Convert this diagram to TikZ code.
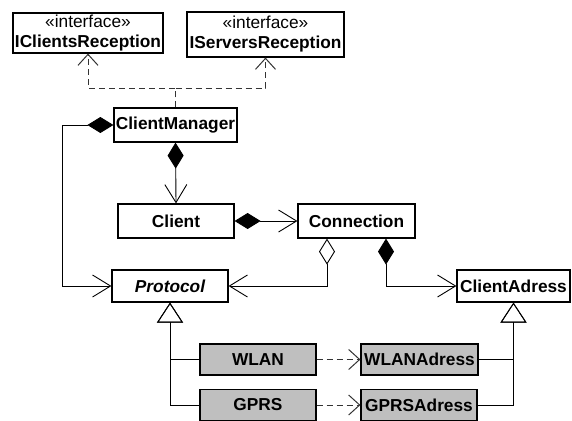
\documentclass[tikz,border=0pt]{standalone}
\usepackage{fontspec}
\setmainfont{Liberation Sans}
\usetikzlibrary{arrows.meta}

\begin{document}
\begin{tikzpicture}[x=1pt,y=-1pt,
    font=\fontsize{17.3}{20}\selectfont,
    cls/.style={draw,line width=1.2pt,minimum width=116pt,minimum height=32pt,
      inner xsep=1.5pt,inner ysep=1pt,font=\fontsize{17.3}{20}\selectfont\bfseries},
    impl/.style={cls,fill=gray!50},
    iface/.style={cls,align=center},
    link/.style={line width=0.9pt},
    comp/.style={link,{Diamond[length=26pt,width=16pt]}-{Straight Barb[length=18pt,width=22pt]}},
    aggr/.style={link,{Diamond[open,length=26pt,width=16pt]}-{Straight Barb[length=18pt,width=22pt]}},
    gen/.style={link,-{Triangle[open,length=20pt,width=26pt]}},
    dep/.style={link,line width=1pt,black!80,dash pattern=on 6pt off 4pt,-{Straight Barb[length=11pt,width=20pt]}}
  ]
\useasboundingbox (0,0) rectangle (572,420);

% interfaces
\node[iface,minimum width=150pt,minimum height=40pt] (icr) at (88,33) {\mdseries\guillemotleft interface\guillemotright\\IClientsReception};
\node[iface,minimum width=157pt,minimum height=45pt] (isr) at (265.5,34.5) {\mdseries\guillemotleft interface\guillemotright\\IServersReception};

% classes
\node[cls,minimum width=123pt,minimum height=34pt] (cm) at (175.5,125) {ClientManager};
\node[cls,minimum height=34pt] (client) at (176,221) {Client};
\node[cls,minimum width=117pt,minimum height=34pt] (conn) at (356.5,221) {Connection};
\node[cls] (proto) at (170,286) {\itshape Protocol};
\node[cls,minimum width=113pt] (ca) at (513.5,286) {ClientAdress};
\node[impl,minimum height=31pt] (wlan) at (258,359.5) {WLAN};
\node[impl,minimum width=117pt,minimum height=31pt] (wa) at (419.5,359.5) {WLANAdress};
\node[impl,minimum height=31pt] (gprs) at (258,405) {GPRS};
\node[impl,minimum height=31pt] (ga) at (419,405) {GPRSAdress};

% realisation of both interfaces
\coordinate (fork) at (175.5,88);
\draw[dep] (cm.north) -- (fork) -| (icr.south);
\draw[dep] (fork) -| (isr.south);

% associations
\draw[comp] (cm.south) -- (client.north);
\draw[comp] (client.east) -- (conn.west);
\draw[comp] (cm.west) -- ++(-51,0) |- (proto.west);
\draw[aggr] ([xshift=-29.5pt]conn.south) |- (proto.east);
\draw[comp] ([xshift=29.5pt]conn.south) |- (ca.west);

% inheritance
\draw[gen] (wlan.west) -| (proto.south);
\draw[gen] (gprs.west) -| (proto.south);
\draw[gen] (wa.east) -| (ca.south);
\draw[gen] (ga.east) -| (ca.south);

% protocol uses its address
\draw[dep] (wlan.east) -- (wa.west);
\draw[dep] (gprs.east) -- (ga.west);
\end{tikzpicture}
\end{document}
